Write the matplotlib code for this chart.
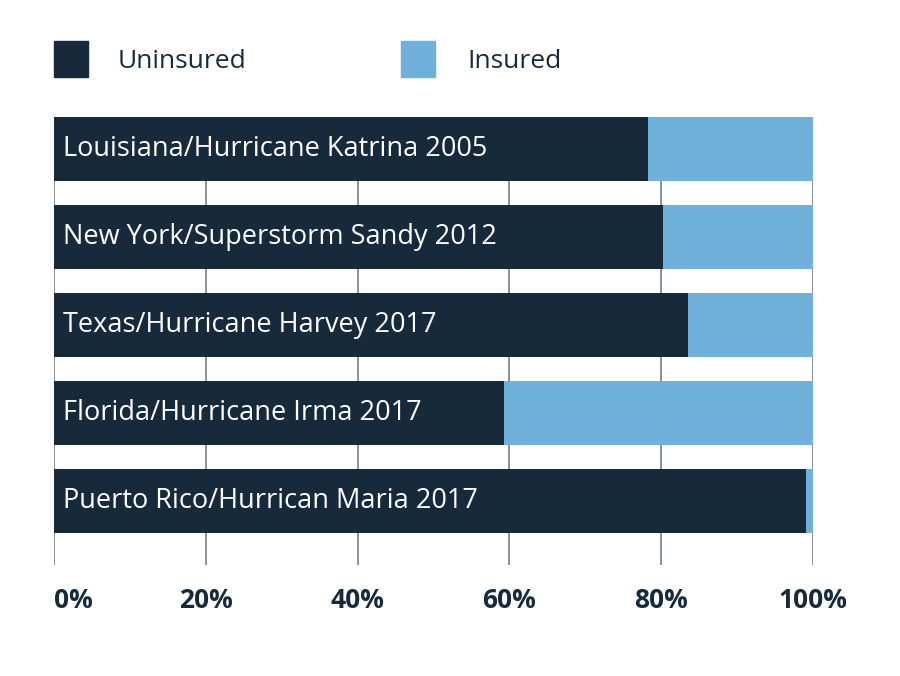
import numpy as np
import matplotlib
matplotlib.use("Agg")
import matplotlib.pyplot as plt
from matplotlib.patches import Rectangle

plt.rcParams['font.family'] = ['Open Sans', 'DejaVu Sans']

# data (percent of households)
events = ["Louisiana/Hurricane Katrina 2005",
          "New York/Superstorm Sandy 2012",
          "Texas/Hurricane Harvey 2017",
          "Florida/Hurricane Irma 2017",
          "Puerto Rico/Hurrican Maria 2017"]
uninsured = [78.3, 80.2, 83.5, 59.3, 99.1]
insured = [100 - u for u in uninsured]
tick_vals = [0, 20, 40, 60, 80, 100]
tick_labels = ["0%", "20%", "40%", "60%", "80%", "100%"]

dark = "#172a3c"
light = "#70b1dc"
grid_col = "#8a9097"

fig = plt.figure(figsize=(9, 6.76), dpi=100)
ax = fig.add_axes([54/900, 1 - 565/676, (813-54)/900, (565-117)/676])

y = np.arange(len(events))
h = 0.727
ax.barh(y, uninsured, height=h, color=dark, zorder=2)
ax.barh(y, insured, left=uninsured, height=h, color=light, zorder=2)

for yi, name in zip(y, events):
    ax.text(1.2, yi, name, color="white", fontsize=19.5, va="center", ha="left", zorder=3)

for t in tick_vals:
    ax.axvline(t, color=grid_col, lw=1.4, zorder=1)

ax.set_xlim(0, 100)
ax.set_ylim(len(events) - 1 + 0.5 + 0.227, -h/2)
ax.set_xticks(tick_vals)
ax.set_xticklabels(tick_labels, fontsize=19, fontweight="bold", color=dark)
ax.tick_params(axis="x", length=0, pad=16)
ax.set_yticks([])
for s in ax.spines.values():
    s.set_visible(False)
lbls = ax.get_xticklabels()
lbls[0].set_ha("left")

# legend
fig.add_artist(Rectangle((54/900, 1 - 77/676), 34/900, 36/676, color=dark, transform=fig.transFigure))
fig.text(118/900, 1 - 61/676, "Uninsured", fontsize=19, color=dark, va="center", ha="left")
fig.add_artist(Rectangle((401/900, 1 - 77/676), 34/900, 36/676, color=light, transform=fig.transFigure))
fig.text(467/900, 1 - 61/676, "Insured", fontsize=19, color=dark, va="center", ha="left")

fig.savefig("out.png", dpi=100, facecolor="white")
